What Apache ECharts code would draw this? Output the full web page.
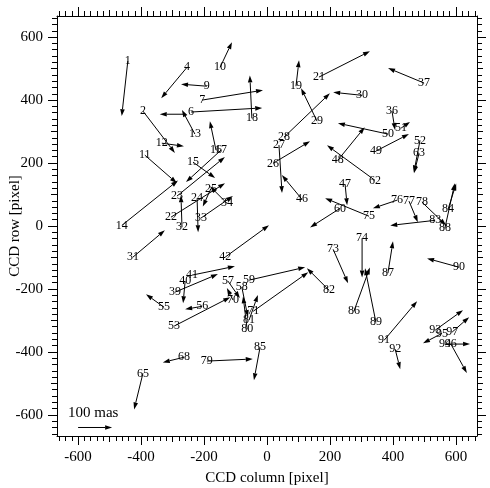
<!DOCTYPE html>
<html><head><meta charset="utf-8">
<script src="https://cdn.jsdelivr.net/npm/echarts@6/dist/echarts.min.js"></script>
<style>html,body{margin:0;padding:0;background:#fff}#c{width:490px;height:488px}</style>
</head><body><div id="c"></div>
<script>
// Star labels ("" = label hidden by overlap in the original)
const starIds = ["1","2","","4","6","7","9","10","11","12","13","14","15","16","17","18","19","21","22","23","24","25","26","27","28","29","30","31","32","33","34","36","37","39","40","41","42","46","47","48","49","50","51","52","53","55","56","57","58","59","60","62","63","65","68","70","71","73","74","75","76","77","78","79","80","81","82","83","84","85","86","87","88","89","90","91","92","93","94","95","96","97"];
// CCD position [pixel]
const colX = [-442,-394,-264,-254,-241,-206,-191,-149,-388,-334,-229,-461,-235,-162,-146,-48,92,165,-305,-286,-222,-178,19,38,54,159,302,-426,-270,-210,-127,397,499,-292,-260,-238,-133,111,248,225,346,384,426,486,-295,-327,-206,-124,-80,-57,232,343,483,-394,-264,-108,-44,210,302,324,413,451,492,-191,-63,-57,197,534,575,-22,276,384,565,346,610,372,407,534,565,556,584,588];
const rowY = [524,365,355,504,362,400,444,504,225,263,292,2,203,241,241,342,444,473,28,95,88,119,199,257,282,333,415,-99,-4,25,72,365,454,-210,-175,-156,-99,85,133,209,238,292,311,272,-318,-258,-255,-175,-194,-172,56,145,231,-468,-417,-235,-271,-74,-39,31,82,79,76,-429,-328,-299,-204,18,53,-385,-271,-150,-7,-306,-131,-363,-391,-331,-375,-341,-375,-337];
// Displacement vector [mas]
const pmX = [-18,94,-71,-76,209,179,-76,35,94,65,-38,165,65,-18,-103,-6,9,150,159,141,3,-24,109,9,135,-47,-85,94,-3,94,-50,9,-106,126,-6,126,129,-59,6,79,97,-147,26,-18,165,-53,-50,35,18,165,-88,-141,-15,-26,-62,-18,162,44,0,-129,-71,26,71,135,-12,26,-65,-132,24,-18,47,15,29,-32,-94,97,15,82,74,-56,47,50];
const pmY = [-162,-123,0,-91,12,29,6,74,-82,-9,71,132,-47,85,-94,126,76,76,100,115,-100,-53,65,-141,129,97,9,79,94,65,50,-56,44,53,-65,26,94,71,-62,97,50,32,18,-94,85,38,-9,-50,-88,38,-56,103,-59,-106,-15,35,115,-100,-115,53,-24,-62,-68,6,97,74,65,-15,76,-97,129,94,132,159,26,115,-59,59,0,-29,-85,44];
// Scale bar
const scaleMas = 100, scaleX = -600, scaleY = -640, scaleText = "100 mas";
const MAS_TO_PIX = 1.08;
// Axes
const axMin = -667, axMax = 667;
const majorTicks = [-600,-400,-200,0,200,400,600];
const midTicks = [-500,-300,-100,100,300,500];
const minorTicks = [];
for (let v = -660; v <= 660; v += 20) minorTicks.push(v);

const FONT = '"Liberation Serif", "Times New Roman", serif';
const chart = echarts.init(document.getElementById('c'), null, {renderer: 'canvas'});

function arrowShapes(p0, p1, children) {
  const dx = p1[0] - p0[0], dy = p1[1] - p0[1];
  const L = Math.hypot(dx, dy) || 1;
  const ux = dx / L, uy = dy / L;
  const hl = Math.min(7, L * 0.6), hw = 2.3;
  const bx = p1[0] - ux * hl, by = p1[1] - uy * hl;
  children.push({type: 'line', shape: {x1: p0[0], y1: p0[1], x2: bx, y2: by}, style: {stroke: '#000', lineWidth: 1}});
  children.push({type: 'polygon', shape: {points: [[p1[0], p1[1]], [bx - uy * hw, by + ux * hw], [bx + uy * hw, by - ux * hw]]}, style: {fill: '#000'}});
}

function renderStar(params, api) {
  const x = api.value(0), y = api.value(1), mx = api.value(2), my = api.value(3);
  const p0 = api.coord([x, y]);
  const p1 = api.coord([x + mx * MAS_TO_PIX, y + my * MAS_TO_PIX]);
  const children = [];
  arrowShapes(p0, p1, children);
  const lab = starIds[params.dataIndex];
  if (lab) children.push({type: 'text', x: p0[0], y: p0[1], style: {text: lab, font: '12px ' + FONT, fill: '#000', align: 'center', verticalAlign: 'middle'}});
  return {type: 'group', children};
}

function renderScale(params, api) {
  const x = api.value(0), y = api.value(1), m = api.value(2);
  const p0 = api.coord([x, y]);
  const p1 = api.coord([x + m * MAS_TO_PIX, y]);
  const children = [];
  arrowShapes(p0, p1, children);
  const pt = api.coord([x - 32, y + 45]);
  children.push({type: 'text', x: pt[0], y: pt[1], style: {text: scaleText, font: '15px ' + FONT, fill: '#000', align: 'left', verticalAlign: 'middle'}});
  return {type: 'group', children};
}

function makeAxis(dim, pos, ticks, len, labels, line, extra) {
  return Object.assign({
    type: 'value', position: pos, min: axMin, max: axMax, gridIndex: 0,
    axisLine: {show: line, onZero: false, lineStyle: {color: '#000', width: 1}},
    axisTick: {show: true, inside: false, length: len, customValues: ticks, lineStyle: {color: '#000', width: 1}},
    axisLabel: labels ? {show: true, customValues: majorTicks, fontFamily: FONT, fontSize: 15, color: '#000', margin: 14} : {show: false},
    splitLine: {show: false}
  }, extra || {});
}

const option = {
  backgroundColor: '#fff',
  animation: false,
  grid: {left: 57, top: 16, width: 420, height: 420, containLabel: false, outerBoundsMode: 'none'},
  xAxis: [
    makeAxis('x', 'bottom', majorTicks, 9, true, true, {name: 'CCD column [pixel]', nameLocation: 'middle', nameGap: 35, nameMoveOverlap: false, nameTextStyle: {fontFamily: FONT, fontSize: 15, color: '#000'}}),
    makeAxis('x', 'bottom', midTicks, 6, false, false),
    makeAxis('x', 'bottom', minorTicks, 5, false, false),
    makeAxis('x', 'top', majorTicks, 9, false, true),
    makeAxis('x', 'top', midTicks, 6, false, false),
    makeAxis('x', 'top', minorTicks, 5, false, false)
  ],
  yAxis: [
    makeAxis('y', 'left', majorTicks, 9, true, true, {name: 'CCD row [pixel]', nameLocation: 'middle', nameGap: 34, nameMoveOverlap: false, nameTextStyle: {fontFamily: FONT, fontSize: 15, color: '#000'}}),
    makeAxis('y', 'left', midTicks, 6, false, false),
    makeAxis('y', 'left', minorTicks, 5, false, false),
    makeAxis('y', 'right', majorTicks, 9, false, true),
    makeAxis('y', 'right', midTicks, 6, false, false),
    makeAxis('y', 'right', minorTicks, 5, false, false)
  ],
  series: [
    {type: 'custom', xAxisIndex: 0, yAxisIndex: 0, renderItem: renderStar, clip: false,
     data: colX.map((x, i) => [x, rowY[i], pmX[i], pmY[i]])},
    {type: 'custom', xAxisIndex: 0, yAxisIndex: 0, renderItem: renderScale, clip: false,
     data: [[scaleX, scaleY, scaleMas]]}
  ]
};
chart.setOption(option);
</script>
</body></html>
